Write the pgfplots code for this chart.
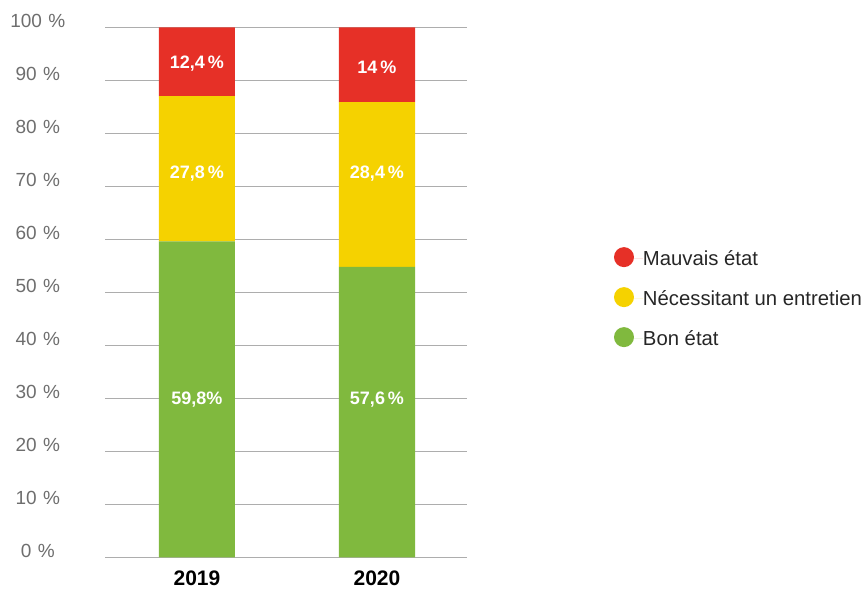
\documentclass[border=0pt]{standalone}
\usepackage{fontspec}
\setmainfont{Liberation Sans}
\usepackage{pgfplots}
\pgfplotsset{compat=1.18}
\definecolor{cred}{HTML}{E63027}
\definecolor{cyel}{HTML}{F5D200}
\definecolor{cgrn}{HTML}{80B93E}
\definecolor{cgrid}{HTML}{ADADAD}
\definecolor{ctick}{HTML}{6E6E6E}
\tikzset{barlbl/.style={font=\bfseries\fontsize{18}{18}\selectfont, text=white, yshift=-2pt}}
\begin{document}
\begin{tikzpicture}
\useasboundingbox (0pt,0pt) rectangle (865pt,589pt);
\begin{axis}[
  at={(105pt,31.7pt)}, anchor=south west,
  scale only axis, width=362pt, height=530pt,
  ybar stacked, bar width=76pt,
  xmin=-0.511, xmax=1.5, ymin=0, ymax=100,
  xtick={0,1}, xticklabels={2019,2020},
  ytick={0,10,...,100},
  yticklabels={0 \%,10 \%,20 \%,30 \%,40 \%,50 \%,60 \%,70 \%,80 \%,90 \%,100 \%},
  axis line style={draw=none},
  major tick length=0pt,
  ymajorgrids, grid style={cgrid, line width=1pt},
  yticklabel style={font=\fontsize{19}{19}\selectfont, text=ctick, inner sep=0pt, text width=60pt, align=center, yshift=6pt, xshift=-37pt},
  xticklabel style={font=\bfseries\fontsize{21}{21}\selectfont, text=black, inner sep=0pt, yshift=-13pt},
  reverse legend,
  legend cell align=left,
  legend style={at={(1.406,0.489)}, anchor=west, draw=none, fill=none, inner sep=0pt, outer sep=0pt, row sep=18pt,
    font=\fontsize{20.3}{21}\selectfont, text=black!85,
    nodes={inner sep=0pt, text height=14pt, text depth=4pt, yshift=-1.5pt}},
]
\addplot[fill=cgrn, draw=none, legend image code/.code={\path (0pt,0pt) -- (29pt,0pt); \fill[cgrn] (10pt,1.5pt) circle (10pt);}] coordinates {(0,59.6) (1,54.8)};
\addplot[fill=cyel, draw=none, legend image code/.code={\path (0pt,0pt) -- (29pt,0pt); \fill[cyel] (10pt,1.5pt) circle (10pt);}] coordinates {(0,27.4) (1,31.1)};
\addplot[fill=cred, draw=none, legend image code/.code={\path (0pt,0pt) -- (29pt,0pt); \fill[cred] (10pt,1.5pt) circle (10pt);}] coordinates {(0,13.0) (1,14.1)};
\legend{Bon état, Nécessitant un entretien, Mauvais état}
\coordinate (a1) at (axis cs:0,93.5);
\coordinate (a2) at (axis cs:0,72.7);
\coordinate (a3) at (axis cs:0,30.1);
\coordinate (b1) at (axis cs:1,92.9);
\coordinate (b2) at (axis cs:1,72.7);
\coordinate (b3) at (axis cs:1,30.1);
\end{axis}
\node[barlbl] at (a1) {12,4\,\%};
\node[barlbl] at (a2) {27,8\,\%};
\node[barlbl] at (a3) {59,8\%};
\node[barlbl] at (b1) {14\,\%};
\node[barlbl] at (b2) {28,4\,\%};
\node[barlbl] at (b3) {57,6\,\%};
\end{tikzpicture}
\end{document}
